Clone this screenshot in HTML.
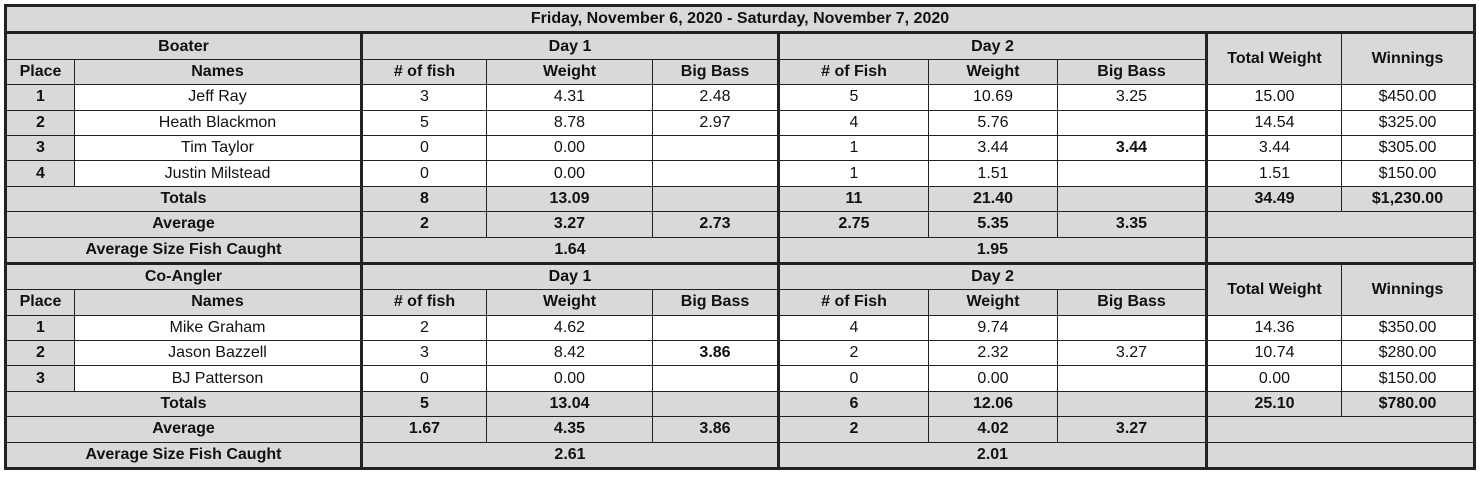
<!DOCTYPE html>
<html><head><style>
body{margin:0;background:#fff;}
table{position:absolute;left:4px;top:4px;border-collapse:collapse;table-layout:fixed;width:1470px;font-family:"Liberation Sans",sans-serif;font-size:16px;color:#111;border:3px solid #222;}
td{border:1.5px solid #222;height:24.4px;padding:0;text-align:center;background:#fff;white-space:nowrap;overflow:hidden;line-height:18px;}
.g{background:#d9d9d9;font-weight:bold;}
.t{border-top:3px solid #222;}
.L{border-left:3px solid #222;}
</style></head><body>
<table>
<colgroup><col style="width:69px"><col style="width:287px"><col style="width:125px"><col style="width:166px"><col style="width:126px"><col style="width:150px"><col style="width:129px"><col style="width:149px"><col style="width:135px"><col style="width:133px"></colgroup>
<tr><td class="g" colspan="10">Friday, November 6, 2020 - Saturday, November 7, 2020</td></tr>
<tr><td class="g t" colspan="2">Boater</td><td class="g t L" colspan="3">Day 1</td><td class="g t L" colspan="3">Day 2</td><td class="g t L" rowspan="2">Total Weight</td><td class="g t" rowspan="2">Winnings</td></tr>
<tr><td class="g">Place</td><td class="g">Names</td><td class="g L"># of fish</td><td class="g">Weight</td><td class="g">Big Bass</td><td class="g L"># of Fish</td><td class="g">Weight</td><td class="g">Big Bass</td></tr>
<tr><td class="g">1</td><td>Jeff Ray</td><td class="L">3</td><td>4.31</td><td>2.48</td><td class="L">5</td><td>10.69</td><td>3.25</td><td class="L">15.00</td><td>$450.00</td></tr>
<tr><td class="g">2</td><td>Heath Blackmon</td><td class="L">5</td><td>8.78</td><td>2.97</td><td class="L">4</td><td>5.76</td><td></td><td class="L">14.54</td><td>$325.00</td></tr>
<tr><td class="g">3</td><td>Tim Taylor</td><td class="L">0</td><td>0.00</td><td></td><td class="L">1</td><td>3.44</td><td><b>3.44</b></td><td class="L">3.44</td><td>$305.00</td></tr>
<tr><td class="g">4</td><td>Justin Milstead</td><td class="L">0</td><td>0.00</td><td></td><td class="L">1</td><td>1.51</td><td></td><td class="L">1.51</td><td>$150.00</td></tr>
<tr><td class="g" colspan="2">Totals</td><td class="g L">8</td><td class="g">13.09</td><td class="g"></td><td class="g L">11</td><td class="g">21.40</td><td class="g"></td><td class="g L">34.49</td><td class="g">$1,230.00</td></tr>
<tr><td class="g" colspan="2">Average</td><td class="g L">2</td><td class="g">3.27</td><td class="g">2.73</td><td class="g L">2.75</td><td class="g">5.35</td><td class="g">3.35</td><td class="g L" colspan="2"></td></tr>
<tr><td class="g" colspan="2">Average Size Fish Caught</td><td class="g L" colspan="3">1.64</td><td class="g L" colspan="3">1.95</td><td class="g L" colspan="2"></td></tr>
<tr><td class="g t" colspan="2">Co-Angler</td><td class="g t L" colspan="3">Day 1</td><td class="g t L" colspan="3">Day 2</td><td class="g t L" rowspan="2">Total Weight</td><td class="g t" rowspan="2">Winnings</td></tr>
<tr><td class="g">Place</td><td class="g">Names</td><td class="g L"># of fish</td><td class="g">Weight</td><td class="g">Big Bass</td><td class="g L"># of Fish</td><td class="g">Weight</td><td class="g">Big Bass</td></tr>
<tr><td class="g">1</td><td>Mike Graham</td><td class="L">2</td><td>4.62</td><td></td><td class="L">4</td><td>9.74</td><td></td><td class="L">14.36</td><td>$350.00</td></tr>
<tr><td class="g">2</td><td>Jason Bazzell</td><td class="L">3</td><td>8.42</td><td><b>3.86</b></td><td class="L">2</td><td>2.32</td><td>3.27</td><td class="L">10.74</td><td>$280.00</td></tr>
<tr><td class="g">3</td><td>BJ Patterson</td><td class="L">0</td><td>0.00</td><td></td><td class="L">0</td><td>0.00</td><td></td><td class="L">0.00</td><td>$150.00</td></tr>
<tr><td class="g" colspan="2">Totals</td><td class="g L">5</td><td class="g">13.04</td><td class="g"></td><td class="g L">6</td><td class="g">12.06</td><td class="g"></td><td class="g L">25.10</td><td class="g">$780.00</td></tr>
<tr><td class="g" colspan="2">Average</td><td class="g L">1.67</td><td class="g">4.35</td><td class="g">3.86</td><td class="g L">2</td><td class="g">4.02</td><td class="g">3.27</td><td class="g L" colspan="2"></td></tr>
<tr><td class="g" colspan="2">Average Size Fish Caught</td><td class="g L" colspan="3">2.61</td><td class="g L" colspan="3">2.01</td><td class="g L" colspan="2"></td></tr>
</table>
</body></html>
